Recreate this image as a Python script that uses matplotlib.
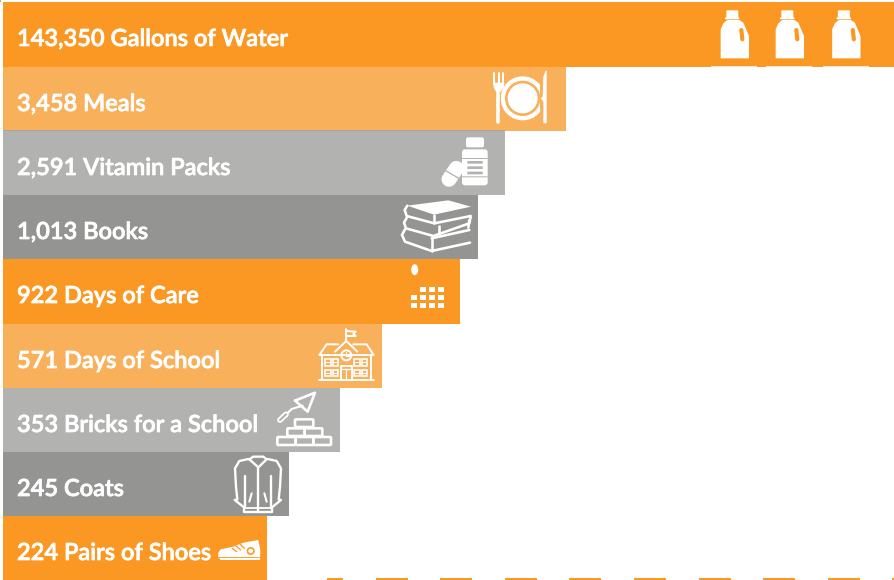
#horizontal "what your gift buys" bars with little white icons
import matplotlib
matplotlib.use('Agg')
import matplotlib.pyplot as plt
import matplotlib.patheffects as pe
from matplotlib.patches import Circle, Ellipse, FancyBboxPatch, Polygon, Rectangle

#the data
labels = ['143,350 Gallons of Water', '3,458 Meals', '2,591 Vitamin Packs', '1,013 Books',
          '922 Days of Care', '571 Days of School', '353 Bricks for a School', '245 Coats',
          '224 Pairs of Shoes']
#bar lengths (not to a linear scale)
bar_lengths = [892, 563, 502, 475, 457, 379, 337, 286, 264]
row_tops = [2, 67, 131, 195, 259, 324, 388, 452, 516, 580]
bar_colors = ['#FA9823', '#F9B05B', '#B2B2B0', '#949492', '#FA9823', '#F9B05B', '#B2B2B0', '#949492', '#FA9823']

ORANGE, LIGHT = '#FA9823', '#F9B05B'
LGRAY, DGRAY = '#B2B2B0', '#949492'
W = 'white'
THICK = 1.3  #icon lines came out too thin at 1:1

fig = plt.figure(figsize=(8.95, 5.8), dpi=100)
ax = fig.add_axes([0, 0, 1, 1])
ax.set_xlim(0, 895)
ax.set_ylim(580, 0)
ax.axis('off')

for i in range(len(labels)):
    top, bot = row_tops[i], row_tops[i + 1]
    ax.barh((top + bot) / 2, bar_lengths[i], height=bot - top, left=3, color=bar_colors[i], linewidth=0)
    #thin stroke fattens the letters a bit, the original font is heavier
    ax.text(17, top + 44, labels[i], color=W, fontsize=17, va='baseline', ha='left',
            family=['Lato', 'DejaVu Sans'], fontweight='semibold',
            path_effects=[pe.withStroke(linewidth=0.5, foreground=W)])

#slightly darker edge between meals and vitamins
ax.add_patch(Rectangle((3, 130), 502, 1, color='#A8A49E', lw=0))
#stray bits at the edges of the picture
ax.add_patch(Rectangle((0, 0), 1, 2, color=ORANGE, lw=0))
for x0 in [327, 376, 440, 505, 569, 634, 699, 763, 828]:
    w = 16.5 if x0 == 327 else 32.5
    ax.add_patch(Rectangle((x0, 578), w, 2, color=ORANGE, lw=0))
ax.add_patch(Rectangle((892.5, 578), 2.5, 2, color=ORANGE, lw=0))


#icon helpers, zoom coords: px = origin + z/3
def line(o, pts, lw=2.0, c=W, cap='round'):
    xs = [o[0] + p[0] / 3 for p in pts]
    ys = [o[1] + p[1] / 3 for p in pts]
    ax.plot(xs, ys, color=c, lw=lw * 0.72 * THICK, solid_capstyle=cap, solid_joinstyle='round')


def poly(o, pts, c=W):
    ax.add_patch(Polygon([(o[0] + p[0] / 3, o[1] + p[1] / 3) for p in pts], closed=True, color=c, lw=0))


def box(o, x0, y0, x1, y1, c=W, r=2.0, fill=True, lw=1.6):
    p = FancyBboxPatch((o[0] + x0 / 3 + r, o[1] + y0 / 3 + r), (x1 - x0) / 3 - 2 * r, (y1 - y0) / 3 - 2 * r,
                       boxstyle='round,pad=%f' % r, lw=0 if fill else lw * 0.72 * THICK,
                       facecolor=c if fill else 'none', edgecolor=c)
    ax.add_patch(p)


def circ(o, x, y, r, c=W):
    ax.add_patch(Circle((o[0] + x / 3, o[1] + y / 3), r / 3, color=c, lw=0))


#water bottles
for o in [(680, 0), (735, 0), (791.5, 0)]:
    box(o, 139, 31, 175, 54, r=1)
    box(o, 135, 52, 178, 58, r=0.5)
    poly(o, [(122, 175), (122, 88), (130, 70), (142, 60), (178, 60), (190, 68), (207, 108), (207, 175)])
    line(o, [(184, 90), (187, 118)], lw=3.2, c=ORANGE)
for x0 in [711, 766, 823]:
    ax.add_patch(Rectangle((x0, 66), 46, 1.2, color='#FEE9CF', lw=0))

#knife, fork and plate
o = (380, 60)
circ(o, 428, 115, 66)
ax.add_patch(Rectangle((497, 70), 4, 60, color=LIGHT, lw=0))
ax.add_patch(Rectangle((540, 70), 4, 60, color=LIGHT, lw=0))
circ(o, 428, 115, 53, LIGHT)
circ(o, 428, 115, 45)
line(o, [(355, 88), (355, 187)], lw=2.8)
line(o, [(343, 40), (343, 72)], lw=1.5)
line(o, [(356, 40), (356, 72)], lw=1.5)
line(o, [(370, 40), (370, 72)], lw=1.5)
poly(o, [(340, 68), (373, 68), (372, 82), (362, 95), (348, 95), (341, 82)])
poly(o, [(488, 110), (490, 50), (497, 32), (500, 32), (500, 190), (490, 190), (490, 125), (482, 115)])

#vitamins
box(o, 258, 232, 312, 262, r=2)
box(o, 246, 268, 323, 376, r=3)
box(o, 246, 294, 323, 297, c=LGRAY, r=0.1)
box(o, 246, 349, 323, 352, c=LGRAY, r=0.1)
for yy in [303, 319, 335]:
    box(o, 262, yy, 308, yy + 8, c=LGRAY, r=0.1)
line(o, [(207, 358), (229, 325)], lw=11.5)
line(o, [(190, 328), (245, 360)], lw=1.0, c=LGRAY, cap='butt')

#books
line(o, [(82, 437), (74, 450), (80, 468), (163, 490), (272, 468)], lw=2)
poly(o, [(82, 437), (205, 421), (273, 440), (162, 464)])
line(o, [(163, 464), (163, 490)], lw=2)
line(o, [(272, 470), (268, 490), (160, 528), (78, 505), (72, 488), (80, 474)], lw=2)
line(o, [(178, 498), (178, 522)], lw=2)
line(o, [(268, 480), (265, 503)], lw=2)
line(o, [(75, 508), (66, 525), (75, 545), (155, 573), (270, 548)], lw=2)
line(o, [(155, 535), (155, 573)], lw=2)
line(o, [(155, 535), (268, 510)], lw=2)

#days of care: a dot and a little calendar grid
o = (270, 255)
ax.add_patch(Ellipse((414.7, 269.7), 7, 11, color=W, lw=0))
for r, yy in enumerate([287.3, 295.3, 303]):
    for k, xx in enumerate([411, 420, 429, 438]):
        if r == 0 and k == 0:
            continue
        ax.add_patch(Rectangle((xx, yy), 6.2, 5, color=W, lw=0))

#school
line(o, [(229, 222), (229, 258)], lw=1.5)
line(o, [(229, 228), (257, 230), (250, 236), (257, 243), (229, 243)], lw=1.5)
line(o, [(195, 290), (229, 258), (262, 290)], lw=1.5)
line(o, [(205, 268), (170, 268), (148, 300), (311, 300), (290, 268), (250, 268)], lw=1.5)
line(o, [(155, 300), (155, 375)], lw=1.5)
line(o, [(303, 300), (303, 375)], lw=1.5)
line(o, [(148, 375), (311, 375)], lw=1.5)
ax.add_patch(Circle((270 + 229 / 3, 255 + 301 / 3), 5, fill=False, ec=W, lw=1.4))
line(o, [(229, 292), (229, 303), (238, 303)], lw=1)
line(o, [(214, 375), (214, 333), (245, 333), (245, 375)], lw=1.5)
line(o, [(214, 342), (245, 342)], lw=1)
line(o, [(229, 342), (229, 375)], lw=1)
for wx in [166, 188, 253, 276]:
    for wy in [312, 344]:
        ax.add_patch(Rectangle((270 + wx / 3, 255 + wy / 3), 5.5, 6.5, fill=False, ec=W, lw=1.2))
        line(o, [(wx, wy + 10), (wx + 16, wy + 10)], lw=0.8)

#trowel and bricks
line(o, [(75, 437), (135, 413), (113, 470), (75, 437)], lw=2)
line(o, [(98, 452), (65, 462), (50, 477)], lw=1.6)
line(o, [(30, 495), (48, 478)], lw=4.4)
line(o, [(30, 495), (48, 478)], lw=1.6, c=LGRAY)
for b in [(75, 493, 130, 516), (52, 520, 104, 543), (104, 520, 157, 543),
          (22, 546, 77, 570), (77, 546, 130, 570), (130, 546, 183, 570)]:
    box(o, b[0], b[1], b[2], b[3], r=1, fill=False, lw=2)

#coat
o = (200, 450)
line(o, [(145, 27), (118, 33), (105, 55), (108, 110), (112, 148), (104, 150), (132, 172), (132, 186),
         (216, 186), (216, 172), (243, 150), (236, 148), (240, 110), (243, 55), (230, 33), (203, 27)], lw=1.8)
line(o, [(148, 28), (175, 52), (200, 28), (190, 20), (160, 20), (148, 28)], lw=1.8)
line(o, [(174, 50), (174, 186)], lw=1.8)
line(o, [(135, 78), (135, 172)], lw=1.8)
line(o, [(213, 78), (213, 172)], lw=1.8)
line(o, [(155, 130), (148, 155)], lw=1.6)
line(o, [(193, 130), (200, 155)], lw=1.6)
line(o, [(132, 174), (216, 174)], lw=1.4)

#shoe
poly(o, [(55, 308), (62, 298), (100, 290), (130, 278), (175, 270), (181, 300), (180, 330), (62, 330), (54, 320)])
line(o, [(55, 320), (178, 320)], lw=0.7, c=ORANGE)
line(o, [(97, 295), (110, 305)], lw=1.0, c=ORANGE)
line(o, [(108, 288), (122, 300)], lw=1.0, c=ORANGE)
line(o, [(120, 282), (133, 295)], lw=1.0, c=ORANGE)
circ(o, 152, 303, 12, ORANGE)
circ(o, 152, 303, 7)

fig.savefig('out.png', dpi=100)
